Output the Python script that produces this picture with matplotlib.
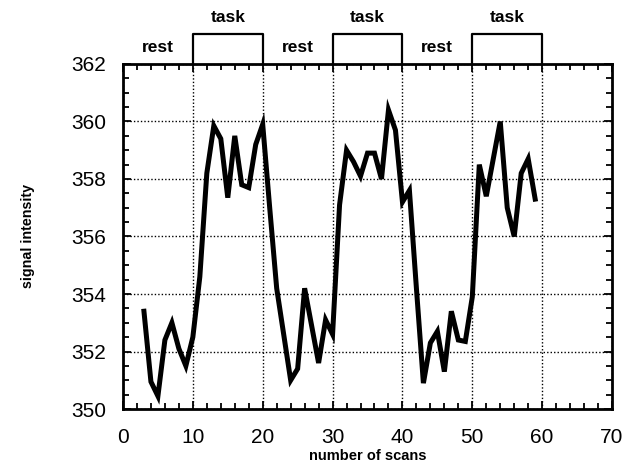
import matplotlib

matplotlib.use("Agg")
import matplotlib.pyplot as plt
from matplotlib.ticker import MultipleLocator

# scan number and measured signal
scans = list(range(3, 60))
signal = [
    353.4, 350.95, 350.45, 352.4, 353.0, 352.1, 351.5, 352.5, 354.6, 358.2,
    359.85, 359.4, 357.35, 359.5, 357.8, 357.7, 359.2, 359.9, 357.0, 354.2,
    352.6, 351.0, 351.4, 354.2, 352.9, 351.6, 353.1, 352.6, 357.1, 359.0,
    358.6, 358.1, 358.9, 358.9, 358.0, 360.4, 359.7, 357.2, 357.6, 354.2,
    350.9, 352.3, 352.7, 351.3, 353.4, 352.4, 352.35, 353.9, 358.5, 357.4,
    358.7, 360.0, 357.0, 356.0, 358.2, 358.7, 357.3,
]

# block design above the plot
task_blocks = [(10, 20), (30, 40), (50, 60)]
rest_centres = [5, 25, 45]

plt.rcParams["font.family"] = ["Liberation Sans", "DejaVu Sans"]

fig = plt.figure(figsize=(6.23, 4.65), dpi=100)
ax = fig.add_axes([0.1974, 0.1204, 0.785, 0.742])

ax.plot(scans, signal, color="black", lw=3.6, solid_joinstyle="miter")

ax.set_xlim(0, 70)
ax.set_ylim(350, 362)
ax.xaxis.set_major_locator(MultipleLocator(10))
ax.xaxis.set_minor_locator(MultipleLocator(2))
ax.yaxis.set_major_locator(MultipleLocator(2))
ax.yaxis.set_minor_locator(MultipleLocator(0.5))
ax.grid(True, which="major", color="black", ls=(0, (1, 1.5)), lw=1.0)

ax.tick_params(which="both", direction="in", top=True, right=True, width=1.3, labelsize=15)
ax.tick_params(which="major", length=6)
ax.tick_params(which="minor", length=4)
ax.tick_params(axis="y", pad=12)
ax.tick_params(axis="x", pad=14)
for sp in ax.spines.values():
    sp.set_linewidth(2.0)

ax.set_xlabel("number of scans", fontsize=10.5, fontweight="bold", labelpad=1)
ax.set_ylabel("signal intensity", fontsize=10.3, fontweight="bold", labelpad=26)

trans = ax.get_xaxis_transform()
box_top = 1.087
for x0, x1 in task_blocks:
    ax.plot([x0, x0, x1, x1], [1.0, box_top, box_top, 1.0], color="black", lw=1.6,
            transform=trans, clip_on=False)
    ax.text((x0 + x1) / 2, 1.112, "task", transform=trans, ha="center", va="bottom",
            fontsize=12.5, fontweight="bold")
for xc in rest_centres:
    ax.text(xc, 1.025, "rest", transform=trans, ha="center", va="bottom",
            fontsize=12.5, fontweight="bold")

fig.savefig("out.png", dpi=100)
